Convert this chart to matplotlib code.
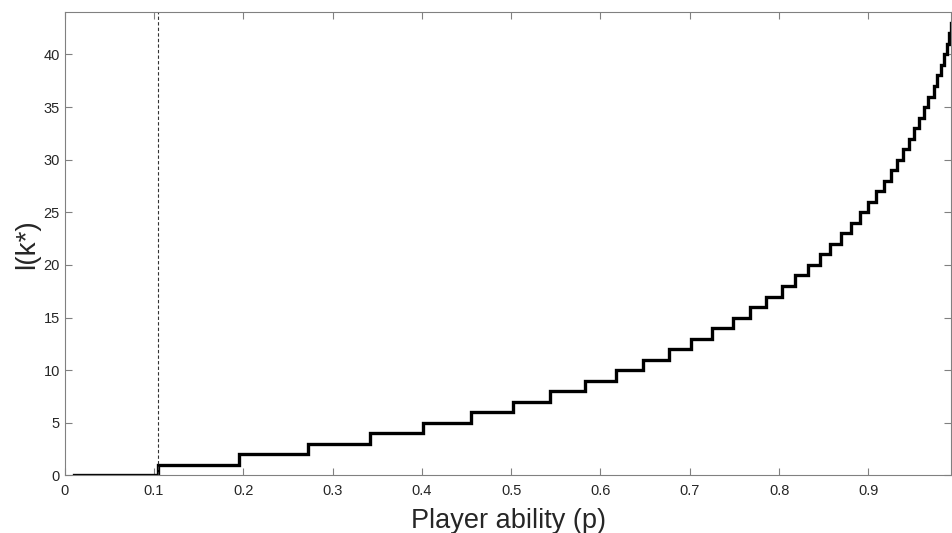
import matplotlib
matplotlib.use("Agg")
import matplotlib.pyplot as plt

# Player ability values at which l(k*) steps up to the listed level
step_p = [0.0100, 0.105, 0.195, 0.273, 0.342, 0.401, 0.455, 0.502, 0.544, 0.583,
          0.617, 0.648, 0.677, 0.7015, 0.725, 0.748, 0.767, 0.785, 0.803,
          0.818, 0.8325, 0.846, 0.857, 0.869, 0.880, 0.891, 0.900, 0.9086,
          0.917, 0.925, 0.932, 0.9385, 0.9456, 0.9515, 0.957, 0.962, 0.967,
          0.9736, 0.9773, 0.981, 0.9848, 0.9878, 0.9907, 0.9925]
levels = [0, 1, 2, 3, 4, 5, 6, 7, 8, 9, 10, 11, 12, 13, 14, 15, 16, 17, 18,
          19, 20, 21, 22, 23, 24, 25, 26, 27, 28, 29, 30, 31, 32, 33, 34, 35,
          36, 37, 38, 39, 40, 41, 42, 43]
p_end = 0.993
threshold_p = 0.105

x_ticks = [0, 0.1, 0.2, 0.3, 0.4, 0.5, 0.6, 0.7, 0.8, 0.9]
x_tick_labels = ["0", "0.1", "0.2", "0.3", "0.4", "0.5", "0.6", "0.7", "0.8", "0.9"]
y_ticks = [0, 5, 10, 15, 20, 25, 30, 35, 40]

plt.rcParams['font.family'] = ['Liberation Sans', 'DejaVu Sans']

fig = plt.figure(figsize=(9.53, 5.33), dpi=100)
ax = fig.add_axes([0.0678, 0.1079, 0.9306, 0.869])

xs = step_p + [p_end]
ys = levels + [levels[-1]]
ax.step(xs, ys, where='post', color='black', linewidth=2.4, solid_joinstyle='miter')
ax.axvline(threshold_p, color='#333333', linestyle=(0, (3, 2)), linewidth=0.8)

ax.set_xlim(0, p_end)
ax.set_ylim(0, 44)
ax.set_xticks(x_ticks)
ax.set_xticklabels(x_tick_labels)
ax.set_yticks(y_ticks)

grey = '#808080'
for s in ax.spines.values():
    s.set_color(grey)
    s.set_linewidth(0.8)
ax.tick_params(direction='in', length=5, width=0.8, color=grey,
               labelcolor='#262626', labelsize=10.5, top=True, right=True)
ax.tick_params(axis='x', pad=6)

ax.set_xlabel('Player ability (p)', fontsize=19.5, color='#262626', labelpad=7)
ax.set_ylabel('l(k*)', fontsize=20, color='#262626', labelpad=2)

fig.savefig('out.png', dpi=100)
